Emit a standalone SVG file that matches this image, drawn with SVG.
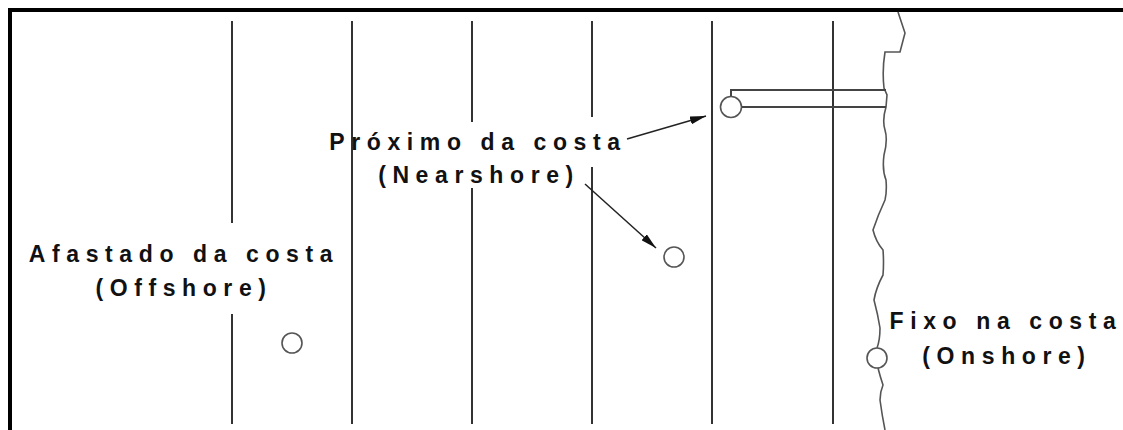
<svg xmlns="http://www.w3.org/2000/svg" width="1123" height="430" viewBox="0 0 1123 430">
  <style>
    .grid { stroke: #333; stroke-width: 2; fill: none; }
    .frame { stroke: #000; stroke-width: 4; fill: none; }
    .site { stroke: #555; stroke-width: 1.6; fill: #fff; }
    .pier { stroke: #444; stroke-width: 2; fill: none; }
    .coast { stroke: #555; stroke-width: 1.6; fill: none; }
    .label { font-family: "Liberation Sans", Arial, sans-serif; font-size: 23px; font-weight: bold; letter-spacing: 6.6px; fill: #111; text-anchor: middle; }
    .lead { stroke: #222; stroke-width: 1.5; fill: none; }
  </style>
  <defs>
    <marker id="head" viewBox="0 0 16 8" refX="16" refY="4" markerWidth="16" markerHeight="8" markerUnits="userSpaceOnUse" orient="auto">
      <path d="M0,0 L16,4 L0,8 Z" fill="#111"/>
    </marker>
  </defs>

  <rect width="1123" height="430" fill="#fff"/>

  <!-- frame: top and left edges only -->
  <path class="frame" d="M10,432 L10,10 L1125,10"/>

  <!-- depth lines parallel to the shore -->
  <g id="depth-lines">
    <path class="grid" d="M232,21 V223 M232,314 V424"/>
    <path class="grid" d="M352,21 V424"/>
    <path class="grid" d="M472,21 V122 M472,188 V424"/>
    <path class="grid" d="M592,21 V117 M592,167 V424"/>
    <path class="grid" d="M712,21 V424"/>
    <path class="grid" d="M833,21 V424"/>
  </g>

  <!-- coastline -->
  <g id="coastline">
    <path class="coast" d="M898,12 L905,33 L900,52 L885,52 Q882,70 884,88 L887,95 L886,107 Q882,120 885,130 Q888,140 884,155 Q882,170 886,180 Q887,192 885,200 Q878,215 873,230 Q876,242 883,250 Q884,262 883,275 Q876,288 874,300 Q878,315 880,328 Q880,340 877,348 M878,368 Q880,376 883,385 Q880,392 880,400 Q882,415 885,430"/>
  </g>

  <!-- onshore site -->
  <g id="onshore">
    <circle class="site" cx="877" cy="358" r="10"/>
    <text class="label" x="1006" y="329">Fixo na costa</text>
    <text class="label" x="1007" y="364">(Onshore)</text>
  </g>

  <!-- nearshore site on a pier -->
  <g id="pier">
    <path class="pier" d="M886,90 H731 V97 M742,107 H886"/>
    <circle class="site" cx="731" cy="107" r="10.5"/>
  </g>
  <g id="nearshore">
    <circle class="site" cx="674" cy="257" r="10"/>
    <text class="label" x="478" y="150">Próximo da costa</text>
    <text class="label" x="479" y="183">(Nearshore)</text>
  </g>

  <!-- offshore site -->
  <g id="offshore">
    <circle class="site" cx="292" cy="343" r="10"/>
    <text class="label" x="184" y="262">Afastado da costa</text>
    <text class="label" x="184" y="296">(Offshore)</text>
  </g>

  <!-- leader arrows -->
  <g id="connectors">
    <path class="lead" d="M627,139 L706,116" marker-end="url(#head)"/>
    <path class="lead" d="M585,184 L656,248" marker-end="url(#head)"/>
  </g>
</svg>
